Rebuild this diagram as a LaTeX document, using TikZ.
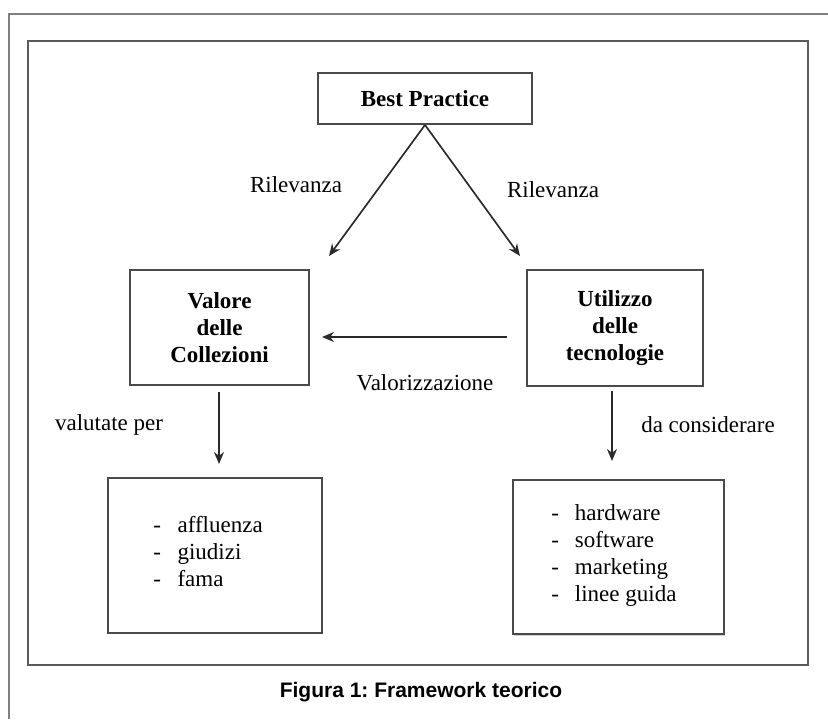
\documentclass[tikz,border=0pt]{standalone}
\usepackage{fontspec}
\setmainfont{Liberation Serif}
\newfontfamily\capfont{Liberation Sans}
\usetikzlibrary{arrows.meta,shadows}
\definecolor{boxgray}{HTML}{4A4A4A}
\definecolor{arrgray}{HTML}{2A2A2A}
\definecolor{framegray}{HTML}{808080}
\definecolor{innergray}{HTML}{5A5A5A}
\frenchspacing
\begin{document}
\begin{tikzpicture}[x=0.75pt,y=-0.75pt,
  box/.style={draw=boxgray, line width=1.4pt, inner sep=0pt, align=center,
    font=\bfseries\fontsize{17.25}{20.25}\selectfont},
  lbl/.style={font=\fontsize{17.25}{20.25}\selectfont, inner sep=0pt},
  listtext/.style={font=\fontsize{17.25}{20.25}\selectfont, inner sep=0pt, anchor=west},
  arr/.style={draw=arrgray, line width=1.25pt, -{Stealth[length=9pt,width=7.5pt]}},
]
\useasboundingbox (0,0) rectangle (828,719);
% outer and inner frames
\draw[framegray, line width=1.6pt] (9,719) -- (9,14) -- (828,14);
\draw[innergray, line width=1.7pt] (28,41) rectangle (808,665);

% boxes
\node[box, minimum width=160.5pt, minimum height=38.25pt] (bp) at (425,98.5) {Best Practice};
\node[box, minimum width=134.25pt, minimum height=86.25pt] (val) at (219.5,327.5) {Valore\\delle\\Collezioni};
\node[box, minimum width=132pt, minimum height=87pt] (uti) at (615,328) {Utilizzo\\delle\\tecnologie};
\node[box, minimum width=160.5pt, minimum height=116.25pt] (lb) at (215,555.5) {};
\node[box, minimum width=158.25pt, minimum height=115.5pt, fill=white,
  drop shadow={shadow xshift=0.4pt, shadow yshift=-1.6pt, opacity=0.35}] (rb) at (618.5,557) {};

% list texts
\node[listtext] (lbt) at (153,554) {\begin{tabular}{@{}l@{\hspace{12.5pt}}l@{}}-&affluenza\\-&giudizi\\-&fama\end{tabular}};
\node[listtext] (rbt) at (551,556) {\begin{tabular}{@{}l@{\hspace{12pt}}l@{}}-&hardware\\-&software\\-&marketing\\-&linee guida\end{tabular}};

% arrow end points
\coordinate (tl) at (329,256);
\coordinate (tr) at (520,256);
\coordinate (hs) at (507,337);
\coordinate (he) at (322,337);
\coordinate (ls) at (219,392);
\coordinate (le) at (219,464);
\coordinate (rs) at (612,391);
\coordinate (re) at (612,461);

\draw[arr] (bp.south) -- (tl);
\draw[arr] (bp.south) -- (tr);
\draw[arr] (hs) -- (he);
\draw[arr] (ls) -- (le);
\draw[arr] (rs) -- (re);

% labels
\node[lbl] (r1) at (296,185) {Rilevanza};
\node[lbl] (r2) at (553,190) {Rilevanza};
\node[lbl] (vz) at (425,383) {Valorizzazione};
\node[lbl] (vp) at (109,425) {valutate per};
\node[lbl] (dc) at (708,425) {da considerare};

% caption
\node[font=\capfont\bfseries\fontsize{15.75}{18}\selectfont, inner sep=0pt] (cap) at (421,692) {Figura 1: Framework teorico};
\end{tikzpicture}
\end{document}
